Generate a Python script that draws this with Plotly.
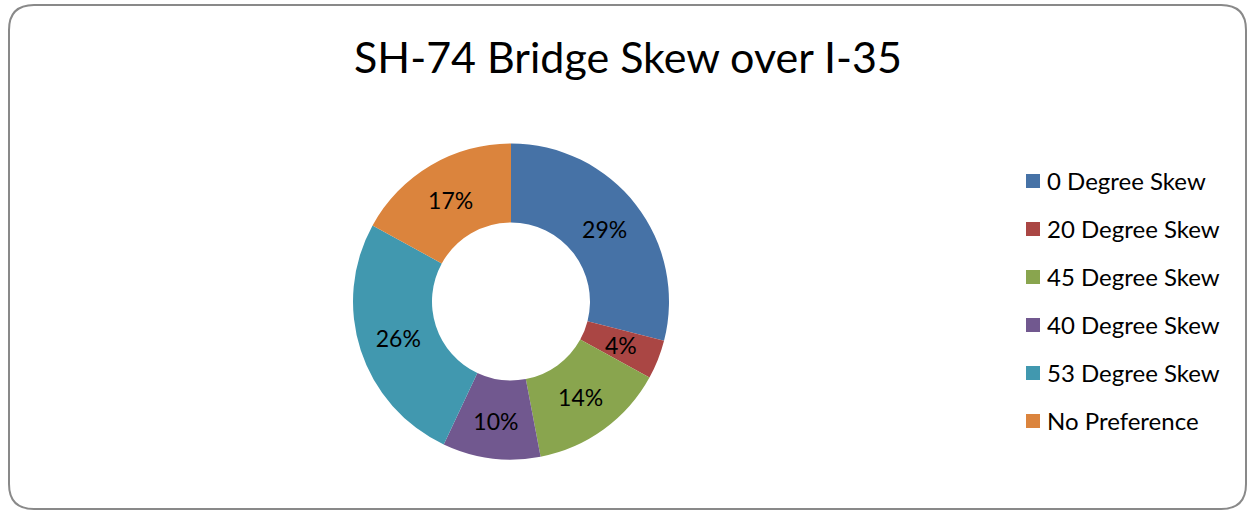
import math
import plotly.graph_objects as go

categories = ["0 Degree Skew", "20 Degree Skew", "45 Degree Skew",
              "40 Degree Skew", "53 Degree Skew", "No Preference"]
values = [29, 4, 14, 10, 26, 17]
colors = ["#4672A6", "#AA4644", "#89A54E", "#71588F", "#4198AF", "#DB843D"]

W, H = 1248, 511
FONT = "Lato"
LABEL_SIZE = 23

fig = go.Figure()

cx, cy, r, hole = 511, 301.5, 158, 0.5
total = sum(values)
# the tiny slice's label is placed by annotation at the slice's mid-angle (plotly pushes it outward)
small = [v / total < 0.06 for v in values]
fig.add_trace(go.Pie(
    labels=categories, values=values, hole=hole, sort=False, direction="clockwise",
    rotation=0, marker=dict(colors=colors, line=dict(width=0)),
    texttemplate="%{percent:.0%}",
    textposition=["none" if s else "inside" for s in small],
    insidetextorientation="horizontal",
    textfont=dict(family=FONT, size=LABEL_SIZE, color="#000000"),
    domain=dict(x=[(cx - r) / W, (cx + r) / W], y=[(H - cy - r) / H, (H - cy + r) / H]),
    showlegend=False, hoverinfo="label+percent",
))

def px(x): return x / W
def py(y): return 1 - y / H

annotations = []
cum = 0
for v, s in zip(values, small):
    mid = (cum + v / 2) / total * 2 * math.pi
    cum += v
    if s:
        rm = r * (1 + hole) / 2
        annotations.append(dict(text=f"{round(100 * v / total)}%", x=px(cx + rm * math.sin(mid)),
                                y=py(cy - rm * math.cos(mid)), xref="paper", yref="paper",
                                showarrow=False, xanchor="center", yanchor="middle",
                                font=dict(family=FONT, size=LABEL_SIZE, color="#000000")))

# Rounded frame
L, R, T, B, rad = 9, 1246, 5, 509, 25
path = (f"M {px(L+rad)},{py(T)} L {px(R-rad)},{py(T)} Q {px(R)},{py(T)} {px(R)},{py(T+rad)} "
        f"L {px(R)},{py(B-rad)} Q {px(R)},{py(B)} {px(R-rad)},{py(B)} "
        f"L {px(L+rad)},{py(B)} Q {px(L)},{py(B)} {px(L)},{py(B-rad)} "
        f"L {px(L)},{py(T+rad)} Q {px(L)},{py(T)} {px(L+rad)},{py(T)} Z")
shapes = [dict(type="path", xref="paper", yref="paper", path=path,
               line=dict(color="#898989", width=2), fillcolor="rgba(0,0,0,0)")]

annotations.append(dict(text="SH-74 Bridge Skew over I-35", x=px(628), y=py(56), xref="paper", yref="paper",
                        showarrow=False, xanchor="center", yanchor="middle",
                        font=dict(family=FONT, size=43, color="#000000")))

# Manual legend
y0, dy, sq = 181, 48, 14
for i, (c, col) in enumerate(zip(categories, colors)):
    yc = y0 + i * dy
    shapes.append(dict(type="rect", xref="paper", yref="paper",
                       x0=px(1026), x1=px(1026 + sq), y0=py(yc - sq / 2), y1=py(yc + sq / 2),
                       fillcolor=col, line=dict(width=0)))
    annotations.append(dict(text=c, x=px(1045), y=py(yc - 1), xref="paper", yref="paper",
                            showarrow=False, xanchor="left", yanchor="middle",
                            font=dict(family=FONT, size=24, color="#000000")))

fig.update_layout(width=W, height=H, margin=dict(l=0, r=0, t=0, b=0),
                  paper_bgcolor="white", plot_bgcolor="white",
                  shapes=shapes, annotations=annotations,
                  uniformtext=dict(minsize=LABEL_SIZE, mode="show"))

fig.write_html("out.html", config={"displayModeBar": False},
               post_script="document.body.style.margin='0px';document.body.style.padding='0px';")
